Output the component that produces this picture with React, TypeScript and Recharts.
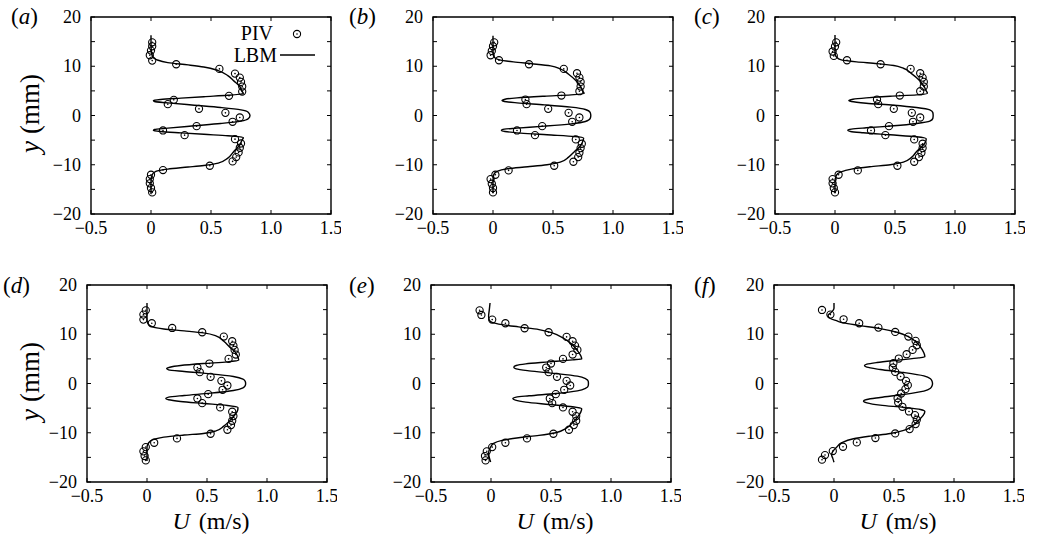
import React from 'react';
import { ScatterChart, Scatter, XAxis, YAxis, ReferenceArea, Legend } from 'recharts';

type Pt = [number, number];

const xTicks = [-0.5, 0, 0.5, 1.0, 1.5];
const yTicks = [-20, -15, -10, -5, 0, 5, 10, 15, 20];
const panelNames = ['a', 'b', 'c', 'd', 'e', 'f'];
const seriesNames = ['PIV', 'LBM'];
const yTitle = ['y', '(mm)'];
const xTitle = ['U', '(m/s)'];

// PIV samples, [U (m/s), y (mm)]
const pivA: Pt[] = [
  [0.01, 14.86], [0.01, 14.05], [0.0, 13.18], [-0.01, 12.23], [0.01, 11.15], [0.21, 10.41],
  [0.57, 9.46], [0.7, 8.51], [0.74, 7.7], [0.75, 6.82], [0.76, 5.88], [0.76, 4.86],
  [0.65, 3.99], [0.19, 3.18], [0.14, 2.3], [0.4, 1.35], [0.62, 0.54], [0.74, -0.41],
  [0.68, -1.28], [0.38, -2.16], [0.1, -3.04], [0.28, -3.99], [0.7, -4.8], [0.75, -5.68],
  [0.74, -6.55], [0.73, -7.5], [0.71, -8.45], [0.68, -9.32], [0.49, -10.2], [0.1, -11.08],
  [0.0, -12.03], [-0.01, -12.91], [-0.01, -13.78], [0.0, -14.73], [0.01, -15.61],
];
const pivB: Pt[] = [
  [0.01, 14.86], [0.0, 14.05], [-0.01, 13.11], [-0.02, 12.23], [0.05, 11.22], [0.3, 10.41],
  [0.59, 9.46], [0.7, 8.58], [0.72, 7.7], [0.73, 6.82], [0.73, 5.88], [0.72, 4.93],
  [0.57, 4.05], [0.27, 3.24], [0.28, 2.3], [0.46, 1.35], [0.63, 0.54], [0.72, -0.41],
  [0.66, -1.28], [0.41, -2.16], [0.2, -3.04], [0.35, -3.99], [0.69, -4.86], [0.74, -5.74],
  [0.73, -6.62], [0.72, -7.57], [0.71, -8.45], [0.67, -9.39], [0.51, -10.2], [0.13, -11.15],
  [0.02, -12.03], [-0.02, -12.91], [-0.01, -13.85], [0.0, -14.73], [0.0, -15.61],
];
const pivC: Pt[] = [
  [0.01, 14.86], [0.0, 14.0], [-0.02, 13.0], [-0.01, 12.1], [0.1, 11.22], [0.38, 10.41],
  [0.63, 9.46], [0.71, 8.58], [0.73, 7.7], [0.74, 6.82], [0.74, 5.88], [0.71, 4.93],
  [0.54, 4.05], [0.35, 3.24], [0.36, 2.3], [0.49, 1.35], [0.64, 0.54], [0.71, -0.41],
  [0.65, -1.28], [0.45, -2.16], [0.3, -3.04], [0.42, -3.99], [0.66, -4.86], [0.73, -5.74],
  [0.73, -6.62], [0.72, -7.57], [0.7, -8.45], [0.66, -9.39], [0.52, -10.2], [0.19, -11.15],
  [0.03, -12.03], [-0.02, -12.91], [-0.02, -13.78], [-0.01, -14.73], [0.0, -15.61],
];
const pivD: Pt[] = [
  [-0.01, 14.86], [-0.03, 13.99], [-0.03, 12.97], [0.04, 12.23], [0.21, 11.28], [0.46, 10.41],
  [0.64, 9.53], [0.71, 8.58], [0.72, 7.7], [0.73, 6.82], [0.74, 5.88], [0.68, 5.0],
  [0.52, 4.05], [0.42, 3.24], [0.44, 2.3], [0.53, 1.35], [0.62, 0.54], [0.67, -0.41],
  [0.63, -1.28], [0.51, -2.16], [0.42, -3.04], [0.46, -3.99], [0.61, -4.86], [0.71, -5.74],
  [0.72, -6.62], [0.71, -7.57], [0.7, -8.45], [0.67, -9.39], [0.53, -10.2], [0.25, -11.15],
  [0.06, -12.03], [-0.01, -12.91], [-0.03, -13.78], [-0.02, -14.73], [-0.01, -15.61],
];
const pivE: Pt[] = [
  [-0.095, 14.86], [-0.08, 13.92], [0.01, 12.97], [0.12, 12.23], [0.28, 11.22], [0.48, 10.41],
  [0.63, 9.46], [0.68, 8.58], [0.7, 7.7], [0.72, 6.82], [0.68, 5.88], [0.6, 5.0],
  [0.5, 4.05], [0.46, 3.24], [0.48, 2.3], [0.55, 1.35], [0.63, 0.54], [0.66, -0.41],
  [0.61, -1.28], [0.54, -2.16], [0.49, -3.04], [0.51, -3.99], [0.6, -4.86], [0.68, -5.74],
  [0.71, -6.62], [0.71, -7.57], [0.69, -8.45], [0.65, -9.39], [0.52, -10.2], [0.3, -11.15],
  [0.12, -12.03], [0.01, -12.91], [-0.035, -13.78], [-0.05, -14.73], [-0.045, -15.61],
];
const pivF: Pt[] = [
  [-0.1, 14.93], [-0.03, 13.99], [0.08, 13.04], [0.21, 12.23], [0.37, 11.35], [0.51, 10.47],
  [0.62, 9.53], [0.68, 8.65], [0.69, 7.77], [0.655, 6.82], [0.605, 5.95], [0.54, 5.07],
  [0.495, 4.12], [0.49, 3.24], [0.51, 2.36], [0.555, 1.42], [0.6, 0.54], [0.615, -0.34],
  [0.595, -1.15], [0.56, -2.03], [0.53, -2.97], [0.535, -3.85], [0.57, -4.73], [0.625, -5.68],
  [0.675, -6.42], [0.69, -7.36], [0.68, -8.24], [0.63, -9.26], [0.51, -10.14], [0.345, -11.08],
  [0.19, -11.96], [0.075, -12.84], [-0.01, -13.72], [-0.075, -14.53], [-0.1, -15.47],
];

// LBM profiles, read top to bottom
const lbmA: Pt[] = [
  [0, 16.3], [0, 14.5], [0.005, 12.6], [0.02, 11.7], [0.05, 11.3], [0.14, 10.74], [0.31, 10.27],
  [0.44, 9.86], [0.56, 9.12], [0.64, 8.11], [0.69, 7.03], [0.74, 5.88], [0.76, 4.86], [0.77, 4.46],
  [0.64, 4.1], [0.44, 3.82], [0.25, 3.53], [0.08, 3.25], [0.02, 3.04], [0.03, 2.84], [0.14, 2.57],
  [0.36, 2.09], [0.58, 1.62], [0.75, 1.15], [0.81, 0.68], [0.825, 0], [0.81, -0.68], [0.75, -1.15],
  [0.58, -1.62], [0.36, -2.09], [0.14, -2.57], [0.03, -2.84], [0.02, -3.04], [0.08, -3.25],
  [0.25, -3.53], [0.44, -3.82], [0.64, -4.1], [0.77, -4.5], [0.76, -4.93], [0.74, -5.95],
  [0.69, -7.3], [0.64, -8.65], [0.56, -9.66], [0.44, -10.14], [0.31, -10.47], [0.14, -10.88],
  [0.04, -11.35], [0.01, -12.03], [0, -13.5], [0, -16],
];
const lbmB: Pt[] = [
  [0, 16.2], [0, 14.5], [0, 12.6], [0.014, 11.76], [0.047, 11.35], [0.17, 10.88], [0.34, 10.47],
  [0.48, 10.07], [0.56, 9.46], [0.63, 8.38], [0.69, 7.09], [0.73, 5.88], [0.75, 4.86], [0.76, 4.46],
  [0.65, 4.19], [0.43, 3.92], [0.2, 3.58], [0.1, 3.31], [0.075, 3.04], [0.095, 2.84], [0.2, 2.57],
  [0.43, 2.16], [0.65, 1.69], [0.77, 1.22], [0.81, 0.61], [0.815, 0], [0.81, -0.61], [0.77, -1.22],
  [0.65, -1.69], [0.43, -2.16], [0.2, -2.57], [0.095, -2.77], [0.07, -2.97], [0.1, -3.24],
  [0.23, -3.58], [0.45, -3.92], [0.68, -4.26], [0.755, -4.59], [0.75, -5.14], [0.73, -6.15],
  [0.68, -7.3], [0.63, -8.45], [0.56, -9.46], [0.45, -10.0], [0.29, -10.41], [0.12, -10.81],
  [0.034, -11.35], [0.006, -12.03], [0, -13.4], [0, -15.8],
];
const lbmC: Pt[] = [
  [0, 16.35], [0, 14.5], [0, 12.6], [0.014, 11.82], [0.053, 11.28], [0.18, 10.88], [0.35, 10.54],
  [0.49, 10.14], [0.57, 9.59], [0.64, 8.45], [0.7, 7.23], [0.74, 6.01], [0.76, 5.0], [0.77, 4.53],
  [0.68, 4.19], [0.46, 3.92], [0.26, 3.58], [0.15, 3.31], [0.115, 3.04], [0.137, 2.84], [0.26, 2.5],
  [0.49, 2.09], [0.68, 1.62], [0.79, 1.15], [0.815, 0.61], [0.818, 0], [0.815, -0.61], [0.79, -1.15],
  [0.68, -1.62], [0.49, -2.09], [0.26, -2.5], [0.137, -2.77], [0.106, -2.97], [0.13, -3.24],
  [0.235, -3.51], [0.46, -3.92], [0.68, -4.32], [0.76, -4.73], [0.756, -5.27], [0.725, -6.28],
  [0.68, -7.3], [0.64, -8.45], [0.57, -9.46], [0.46, -10.0], [0.29, -10.41], [0.137, -10.88],
  [0.045, -11.49], [0.011, -12.16], [0, -13.4], [0, -15.8],
];
const lbmD: Pt[] = [
  [0, 16.35], [0, 14.5], [0, 13.0], [0.008, 12.16], [0.042, 11.55], [0.14, 11.08], [0.31, 10.68],
  [0.47, 10.27], [0.57, 9.73], [0.64, 8.58], [0.69, 7.36], [0.74, 6.22], [0.76, 5.2], [0.764, 4.73],
  [0.67, 4.39], [0.47, 4.05], [0.28, 3.65], [0.19, 3.31], [0.164, 3.04], [0.18, 2.77], [0.31, 2.43],
  [0.53, 1.96], [0.72, 1.42], [0.8, 0.88], [0.819, 0.41], [0.822, 0], [0.819, -0.41], [0.8, -0.88],
  [0.72, -1.42], [0.53, -1.96], [0.31, -2.43], [0.18, -2.77], [0.156, -3.04], [0.18, -3.31],
  [0.28, -3.65], [0.47, -4.05], [0.67, -4.46], [0.758, -4.86], [0.756, -5.41], [0.728, -6.49],
  [0.686, -7.64], [0.64, -8.65], [0.57, -9.66], [0.47, -10.14], [0.31, -10.47], [0.14, -10.88],
  [0.056, -11.35], [0.014, -12.03], [0, -13.04], [0, -15.74],
];
const lbmE: Pt[] = [
  [-0.008, 16.35], [-0.014, 15.0], [-0.02, 13.65], [-0.014, 12.84], [0.008, 12.43], [0.092, 11.96],
  [0.23, 11.49], [0.4, 10.95], [0.51, 10.27], [0.6, 9.26], [0.67, 8.04], [0.72, 6.69], [0.75, 5.54],
  [0.756, 5.0], [0.68, 4.8], [0.485, 4.39], [0.29, 3.99], [0.21, 3.65], [0.19, 3.31], [0.21, 2.97],
  [0.317, 2.57], [0.54, 2.03], [0.72, 1.49], [0.79, 0.95], [0.81, 0.47], [0.812, 0], [0.81, -0.47],
  [0.79, -0.95], [0.72, -1.49], [0.54, -2.03], [0.317, -2.5], [0.21, -2.77], [0.182, -3.04],
  [0.204, -3.38], [0.29, -3.78], [0.485, -4.26], [0.68, -4.73], [0.756, -5.14], [0.748, -5.81],
  [0.723, -6.76], [0.68, -7.97], [0.625, -9.12], [0.54, -10.0], [0.4, -10.54], [0.23, -11.01],
  [0.092, -11.55], [0.022, -12.16], [-0.006, -13.04], [-0.02, -14.05], [-0.014, -15.07], [-0.003, -15.95],
];
const lbmF: Pt[] = [
  [0, 16.35], [0, 15.3], [-0.02, 14.5], [-0.05, 13.8], [-0.03, 13.2], [0.02, 12.75], [0.078, 12.3],
  [0.218, 11.76], [0.385, 11.15], [0.525, 10.41], [0.623, 9.46], [0.693, 8.24], [0.735, 6.89],
  [0.754, 5.88], [0.757, 5.41], [0.707, 5.2], [0.525, 4.73], [0.358, 4.26], [0.274, 3.92],
  [0.254, 3.65], [0.274, 3.31], [0.385, 2.84], [0.581, 2.23], [0.749, 1.55], [0.804, 0.95],
  [0.818, 0.41], [0.821, 0], [0.818, -0.41], [0.804, -0.95], [0.749, -1.55], [0.581, -2.23],
  [0.385, -2.84], [0.274, -3.24], [0.246, -3.58], [0.274, -3.92], [0.385, -4.39], [0.581, -4.86],
  [0.72, -5.27], [0.757, -5.68], [0.743, -6.49], [0.707, -7.43], [0.651, -8.65], [0.581, -9.53],
  [0.469, -10.14], [0.302, -10.68], [0.162, -11.22], [0.064, -12.03], [0.02, -13.0], [-0.01, -13.8],
  [-0.02, -14.5], [-0.01, -15.2], [0, -16.0],
];

const pivSets = [pivA, pivB, pivC, pivD, pivE, pivF];
const lbmSets = [lbmA, lbmB, lbmC, lbmD, lbmE, lbmF];

const FONT = '"Liberation Serif", "Times New Roman", serif';
const PW = 240;
const PH = 197;
const TICK = 4;
const ML = 80;
const MT = 10;
const MR = 10;
const MB = 35;

// plot-area top-left corner of each panel on the page
const plotPos = [
  { left: 91, top: 17 },
  { left: 433, top: 17 },
  { left: 775, top: 17 },
  { left: 87, top: 285 },
  { left: 431, top: 285 },
  { left: 774, top: 285 },
];
const letterPos = [
  { x: 11, y: 24 },
  { x: 349, y: 24 },
  { x: 694, y: 24 },
  { x: 3, y: 293 },
  { x: 349, y: 293 },
  { x: 694, y: 293 },
];

const fmtX = (v: number) => (v === 0 ? '0' : (v < 0 ? '\u2212' : '') + Math.abs(v).toFixed(1));
const fmtY = (v: number) => (v < 0 ? '\u2212' : '') + Math.abs(v);

function XTick({ x, y, payload }: any) {
  return (
    <g>
      <line x1={x} y1={y} x2={x} y2={y - TICK} stroke="#000" strokeWidth={1} />
      <line x1={x} y1={y - PH} x2={x} y2={y - PH + TICK} stroke="#000" strokeWidth={1} />
      <text x={x} y={y + 20} textAnchor="middle" fontSize={18} fontFamily={FONT} fill="#000">
        {fmtX(payload.value)}
      </text>
    </g>
  );
}

function YTick({ x, y, payload }: any) {
  const v = payload.value;
  return (
    <g>
      <line x1={x} y1={y} x2={x + TICK} y2={y} stroke="#000" strokeWidth={1} />
      <line x1={x + PW} y1={y} x2={x + PW - TICK} y2={y} stroke="#000" strokeWidth={1} />
      {v % 10 === 0 && (
        <text x={x - 10} y={y + 6} textAnchor="end" fontSize={18} fontFamily={FONT} fill="#000">
          {fmtY(v)}
        </text>
      )}
    </g>
  );
}

function PivMarker({ cx, cy }: any) {
  return (
    <g>
      <circle cx={cx} cy={cy} r={3.6} fill="none" stroke="#000" strokeWidth={1.1} />
      <circle cx={cx} cy={cy} r={0.8} fill="#000" />
    </g>
  );
}

function LegendBox() {
  return (
    <svg width={120} height={60}>
      <text x={62} y={23} textAnchor="end" fontSize={20} fontFamily={FONT} fill="#000">
        {seriesNames[0]}
      </text>
      <circle cx={86} cy={17} r={3.6} fill="none" stroke="#000" strokeWidth={1.1} />
      <circle cx={86} cy={17} r={0.8} fill="#000" />
      <text x={66} y={45} textAnchor="end" fontSize={20} fontFamily={FONT} fill="#000">
        {seriesNames[1]}
      </text>
      <line x1={69} y1={38} x2={104} y2={38} stroke="#000" strokeWidth={1.3} />
    </svg>
  );
}

function Panel({ idx }: { idx: number }) {
  const pos = plotPos[idx];
  const piv = pivSets[idx].map(([x, y]) => ({ x, y }));
  const lbm = lbmSets[idx].map(([x, y]) => ({ x, y }));
  return (
    <div style={{ position: 'absolute', left: pos.left - ML, top: pos.top - MT }}>
      <ScatterChart
        width={ML + PW + MR}
        height={MT + PH + MB}
        margin={{ top: MT, right: MR, bottom: 0, left: 0 }}
      >
        <XAxis
          type="number"
          dataKey="x"
          domain={[-0.5, 1.5]}
          ticks={xTicks}
          interval={0}
          tickSize={0}
          tickMargin={0}
          axisLine={false}
          tickLine={false}
          height={MB}
          allowDataOverflow
          tick={(p: any) => <XTick {...p} />}
        />
        <YAxis
          type="number"
          dataKey="y"
          domain={[-20, 20]}
          ticks={yTicks}
          interval={0}
          tickSize={0}
          tickMargin={0}
          axisLine={false}
          tickLine={false}
          width={ML}
          allowDataOverflow
          tick={(p: any) => <YTick {...p} />}
        />
        <ReferenceArea x1={-0.5} x2={1.5} y1={-20} y2={20} fill="none" stroke="#000" strokeWidth={1.4} />
        <Scatter
          name={seriesNames[1]}
          data={lbm}
          fill="#000"
          line={{ stroke: '#000', strokeWidth: 1.4 }}
          lineJointType="monotoneY"
          shape={() => <g />}
          isAnimationActive={false}
        />
        <Scatter
          name={seriesNames[0]}
          data={piv}
          fill="#000"
          shape={(p: any) => <PivMarker {...p} />}
          isAnimationActive={false}
        />
        {idx === 0 && (
          <Legend
            layout="vertical"
            align="center"
            verticalAlign="middle"
            content={() => <LegendBox />}
            wrapperStyle={{ left: 200, top: 10, width: 120, height: 60 }}
          />
        )}
      </ScatterChart>
    </div>
  );
}

export default function App() {
  return (
    <div style={{ position: 'absolute', left: 0, top: 0, width: 1038, height: 546, background: '#fff' }}>
      {panelNames.map((_, i) => (
        <Panel key={i} idx={i} />
      ))}
      <svg
        width={1038}
        height={546}
        style={{ position: 'absolute', left: 0, top: 0, pointerEvents: 'none' }}
      >
        {panelNames.map((n, i) => (
          <text key={n} x={letterPos[i].x} y={letterPos[i].y} fontSize={23} fontFamily={FONT} fill="#000">
            (<tspan fontStyle="italic">{n}</tspan>)
          </text>
        ))}
        {[0, 3].map((i) => (
          <text
            key={'yl' + i}
            transform={`translate(39, ${plotPos[i].top + PH / 2 - 2}) rotate(-90)`}
            textAnchor="middle"
            fontSize={27}
            fontFamily={FONT}
            fill="#000"
          >
            <tspan fontStyle="italic">{yTitle[0]}</tspan>
            <tspan dx={7}>{yTitle[1]}</tspan>
          </text>
        ))}
        {[3, 4, 5].map((i) => (
          <text
            key={'xl' + i}
            x={plotPos[i].left + PW / 2 + 4}
            y={529}
            textAnchor="middle"
            fontSize={24}
            fontFamily={FONT}
            fill="#000"
          >
            <tspan fontStyle="italic">{xTitle[0]}</tspan>
            <tspan dx={9}>{xTitle[1]}</tspan>
          </text>
        ))}
      </svg>
    </div>
  );
}
